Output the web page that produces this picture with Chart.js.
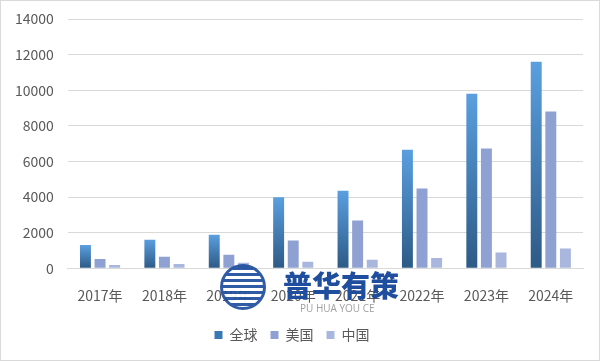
<!DOCTYPE html>
<html>
<head>
<meta charset="utf-8">
<script src="https://cdn.jsdelivr.net/npm/chart.js@4/dist/chart.umd.min.js"></script>
<style>
  html, body { margin: 0; padding: 0; background: #fff; }
  #wrap { position: relative; width: 598px; height: 359px; border: 1px solid #d9d9d9; }
  #chart { display: block; }
  .mark { position: absolute; pointer-events: none; font-family: "Noto Sans CJK SC", sans-serif; }
  #logo {
    left: 219px; top: 263px; width: 40px; height: 40px; border-radius: 50%;
    border: 3px solid #1f4e9e;
    background: repeating-linear-gradient(180deg, #1f4e9e 0 3px, #fff 3px 6px);
    opacity: 0.92;
  }
  #markText { left: 282px; top: 262px; font-size: 29px; font-weight: 900; color: #1f4e9e; }
  #markSub { left: 299px; top: 300px; font-size: 10px; color: #a0a0a0; font-family: "Open Sans", sans-serif; }
</style>
</head>
<body>
<div id="wrap">
  <canvas id="chart" width="598" height="359"></canvas>
  <div id="logo" class="mark"></div>
  <div id="markText" class="mark">普华有策</div>
  <div id="markSub" class="mark">PU HUA YOU CE</div>
</div>
<script>
const years = ['2017年', '2018年', '2019年', '2020年', '2021年', '2022年', '2023年', '2024年'];
const globalVals = [1300, 1600, 1880, 3980, 4350, 6650, 9800, 11600];
const usVals = [520, 640, 760, 1560, 2680, 4480, 6720, 8800];
const chinaVals = [180, 240, 300, 360, 480, 580, 880, 1100];
const yTicks = [0, 2000, 4000, 6000, 8000, 10000, 12000, 14000];

const textColor = '#595959';
const font = { family: '"Noto Sans CJK SC", "Noto Sans", sans-serif', size: 14 };

// each 全球 bar gets its own top-to-bottom gradient, like the original
function globalFill(ctx) {
  const chart = ctx.chart;
  if (!chart.chartArea || ctx.type !== 'data') return '#3f7fbf';
  const y = chart.scales.y;
  const top = y.getPixelForValue(ctx.raw);
  const bottom = y.getPixelForValue(0);
  const g = chart.ctx.createLinearGradient(0, top, 0, bottom);
  g.addColorStop(0, '#5a9fe0');
  g.addColorStop(1, '#2d5a86');
  return g;
}

new Chart('chart', {
  type: 'bar',
  data: {
    labels: years,
    datasets: [
      { label: '全球', data: globalVals, backgroundColor: globalFill },
      { label: '美国', data: usVals, backgroundColor: '#8fa1d3' },
      { label: '中国', data: chinaVals, backgroundColor: '#a9b7de' },
    ],
  },
  options: {
    responsive: false,
    animation: false,
    layout: { padding: { top: 18, right: 16, left: 0, bottom: 8 } },
    datasets: { bar: { categoryPercentage: 0.68, barPercentage: 0.75 } },
    scales: {
      x: {
        grid: { display: false },
        border: { color: '#d9d9d9' },
        ticks: { color: textColor, font, padding: 11, maxRotation: 0 },
      },
      y: {
        min: 0,
        max: 14000,
        afterBuildTicks: (axis) => { axis.ticks = yTicks.map((v) => ({ value: v })); },
        afterFit: (axis) => { axis.paddingTop = 0; },
        grid: { color: '#d9d9d9', drawTicks: false },
        border: { display: false },
        ticks: { color: textColor, font, padding: 14, callback: (v) => String(v) },
      },
    },
    plugins: {
      legend: {
        position: 'bottom',
        labels: {
          color: textColor,
          font,
          boxWidth: 8,
          boxHeight: 8,
          padding: 13,
          generateLabels: (chart) => chart.data.datasets.map((ds, i) => ({
            text: ds.label,
            fillStyle: ['#3a78b5', '#8fa1d3', '#a9b7de'][i],
            strokeStyle: 'transparent',
            lineWidth: 0,
            datasetIndex: i,
            fontColor: textColor,
          })),
        },
      },
      tooltip: { enabled: false },
    },
  },
});
</script>
</body>
</html>
